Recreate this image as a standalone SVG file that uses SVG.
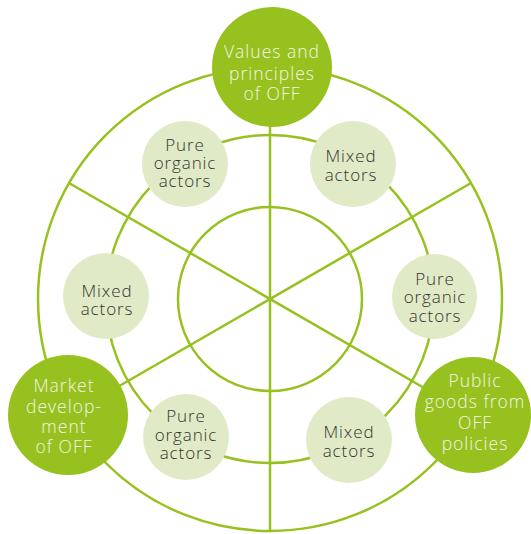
<svg xmlns="http://www.w3.org/2000/svg" width="531" height="534" viewBox="0 0 531 534">
<style>
.ln{fill:none;stroke:#97c11f;stroke-width:2.5}
.big{fill:#97c11f}
.sm{fill:#e1eac6}
.bt{font-family:"Open Sans","Noto Sans",sans-serif;font-weight:300;font-size:17.5px;letter-spacing:1px;fill:#f2f6e4;text-anchor:middle}
.st{font-family:"Open Sans","Noto Sans",sans-serif;font-weight:300;font-size:17px;letter-spacing:0.9px;fill:#333333;text-anchor:middle}
</style>
<rect width="531" height="534" fill="#ffffff"/>
<g id="connectors">
<circle class="ln" cx="270" cy="299" r="232"/>
<circle class="ln" cx="270" cy="299" r="164"/>
<circle class="ln" cx="270" cy="299" r="92"/>
<line class="ln" x1="270" y1="67" x2="270" y2="531"/>
<line class="ln" x1="69" y1="183" x2="471" y2="415"/>
<line class="ln" x1="69" y1="415" x2="471" y2="183"/>
</g>
<g id="pure1"><circle class="sm" cx="185" cy="164" r="43"/><text class="st"><tspan x="185" y="151">Pure</tspan><tspan x="185" y="169">organic</tspan><tspan x="185" y="187">actors</tspan></text></g>
<g id="mixed1"><circle class="sm" cx="353" cy="164" r="43"/><text class="st"><tspan x="351" y="162">Mixed</tspan><tspan x="351" y="181">actors</tspan></text></g>
<g id="pure2"><circle class="sm" cx="434.5" cy="296.5" r="42.5"/><text class="st"><tspan x="435" y="285">Pure</tspan><tspan x="435" y="303">organic</tspan><tspan x="435" y="322">actors</tspan></text></g>
<g id="mixed2"><circle class="sm" cx="106" cy="296" r="43"/><text class="st"><tspan x="107" y="297">Mixed</tspan><tspan x="107" y="315">actors</tspan></text></g>
<g id="pure3"><circle class="sm" cx="186" cy="437" r="43"/><text class="st"><tspan x="186" y="422">Pure</tspan><tspan x="186" y="441">organic</tspan><tspan x="186" y="459">actors</tspan></text></g>
<g id="mixed3"><circle class="sm" cx="349" cy="440" r="43"/><text class="st"><tspan x="349" y="438">Mixed</tspan><tspan x="349" y="457">actors</tspan></text></g>
<g id="values"><circle class="big" cx="272" cy="67" r="60"/><text class="bt"><tspan x="272" y="58">Values and</tspan><tspan x="272" y="80">principles</tspan><tspan x="272" y="100">of OFF</tspan></text></g>
<g id="market"><circle class="big" cx="68" cy="415" r="60"/><text class="bt"><tspan x="64" y="392">Market</tspan><tspan x="64" y="413">develop-</tspan><tspan x="64" y="433">ment</tspan><tspan x="64" y="453">of OFF</tspan></text></g>
<g id="public"><circle class="big" cx="473" cy="415" r="58"/><text class="bt"><tspan x="475" y="387">Public</tspan><tspan x="475" y="408">goods from</tspan><tspan x="475" y="429">OFF</tspan><tspan x="475" y="450">policies</tspan></text></g>
</svg>
